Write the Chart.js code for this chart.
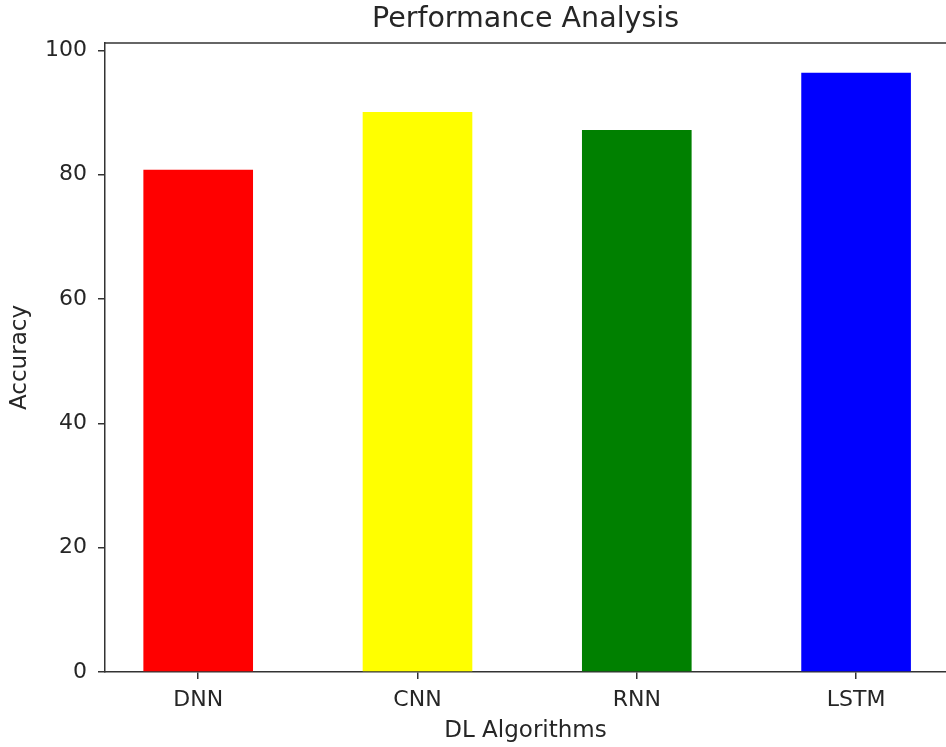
<!DOCTYPE html>
<html>
<head>
<meta charset="utf-8">
<script src="https://cdn.jsdelivr.net/npm/chart.js@4.4.1/dist/chart.umd.min.js"></script>
<style>
  html, body { margin: 0; padding: 0; background: #fff; overflow: hidden; }
  #wrap { width: 946px; height: 747px; }
</style>
</head>
<body>
<div id="wrap"><canvas id="grafico" width="946" height="747"></canvas></div>
<script>
// dados do gráfico
const algoritmos = ['DNN', 'CNN', 'RNN', 'LSTM'];
const acuracia = [80.8, 90.1, 87.2, 96.4];
const coresBarras = ['#ff0000', '#ffff00', '#008000', '#0000ff'];
const ticksY = [0, 20, 40, 60, 80, 100];

const corTexto = '#262626';
const corEixo = '#333333';
const fonte = 'DejaVu Sans';

// moldura superior (spine de cima)
const moldura = {
  id: 'moldura',
  afterDraw(chart) {
    const { ctx, chartArea } = chart;
    ctx.save();
    ctx.strokeStyle = corEixo;
    ctx.lineWidth = 1.5;
    ctx.beginPath();
    ctx.moveTo(chartArea.left - 0.75, chartArea.top);
    ctx.lineTo(chartArea.right + 1, chartArea.top);
    ctx.stroke();
    ctx.restore();
  }
};

const ctx = document.getElementById('grafico').getContext('2d');

new Chart(ctx, {
  type: 'bar',
  data: {
    datasets: [{
      data: acuracia.map((v, i) => ({ x: i, y: v })),
      backgroundColor: coresBarras,
      borderWidth: 0,
      categoryPercentage: 1,
      barPercentage: 0.5
    }]
  },
  options: {
    responsive: false,
    animation: false,
    layout: { padding: 0 },
    plugins: {
      legend: { display: false },
      tooltip: { enabled: false },
      title: {
        display: true,
        text: 'Performance Analysis',
        fullSize: false,
        color: corTexto,
        font: { family: fonte, size: 28.5, weight: 'normal', lineHeight: 1.2 },
        padding: { top: 2, bottom: 6.8 }
      }
    },
    scales: {
      x: {
        type: 'linear',
        min: -0.425,
        max: 3.41,
        offset: false,
        afterBuildTicks: axis => { axis.ticks = algoritmos.map((_, i) => ({ value: i })); },
        afterFit: scale => { scale.height = 75; },
        grid: { offset: false, drawOnChartArea: false, drawTicks: true, tickLength: 7, color: corEixo, lineWidth: 1.5 },
        border: { display: true, color: corEixo, width: 1.5 },
        ticks: {
          color: corTexto,
          padding: 8,
          maxRotation: 0,
          font: { family: fonte, size: 22 },
          callback: v => algoritmos[v] ?? ''
        },
        title: {
          display: true,
          text: 'DL Algorithms',
          color: corTexto,
          font: { family: fonte, size: 23 },
          padding: { top: 0, bottom: 2 }
        }
      },
      y: {
        min: 0,
        max: 101.2,
        afterBuildTicks: axis => { axis.ticks = ticksY.map(v => ({ value: v })); },
        afterFit: scale => { scale.width = 105; },
        grid: { drawOnChartArea: false, drawTicks: true, tickLength: 7, color: corEixo, lineWidth: 1.5 },
        border: { display: true, color: corEixo, width: 1.5 },
        ticks: {
          color: corTexto,
          padding: 11,
          font: { family: fonte, size: 22 }
        },
        title: {
          display: true,
          text: 'Accuracy',
          color: corTexto,
          font: { family: fonte, size: 23 },
          padding: { top: 6, bottom: 0 }
        }
      }
    }
  },
  plugins: [moldura]
});
</script>
</body>
</html>
